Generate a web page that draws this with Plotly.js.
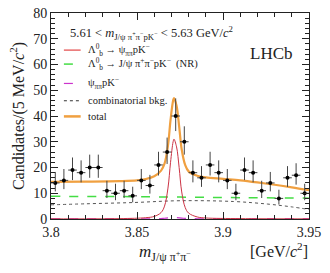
<!DOCTYPE html>
<html><head><meta charset="utf-8">
<script src="https://cdn.plot.ly/plotly-3.0.1.min.js"></script>
<style>body{margin:0;background:#fff}#plot{width:330px;height:273px}</style>
</head><body><div id="plot"></div>
<script>
// Data points (5 MeV bins)
const binCenters = [3.8025,3.8075,3.8125,3.8175,3.8225,3.8275,3.8325,3.8375,3.8425,3.8475,
                    3.8525,3.8575,3.8625,3.8675,3.8725,3.8775,3.8825,3.8875,3.8925,3.8975,
                    3.9025,3.9075,3.9125,3.9175,3.9225,3.9275,3.9325,3.9375,3.9425,3.9475];
const counts = [14,15,19,18,20,20,11,10,11,9,
                15,13,21,26,40,30,18,16,21,18,
                15,10,19,18,11,14,8,16,17,10];

// Fit components
const totalX = [3.800,3.820,3.840,3.850,3.855,3.860,3.864,3.866,3.868,3.8695,3.871,3.8715,3.873,3.8745,3.876,3.878,3.880,3.885,3.890,3.900,3.910,3.920,3.930,3.940,3.950];
const totalY = [14.4,14.5,14.7,15.0,15.5,16.6,18.8,21.5,28.5,38.5,46.0,47.0,44.0,36.0,27.0,21.0,18.5,16.8,16.2,15.6,15.0,14.2,13.3,12.3,11.2];

const sigX = [3.800,3.840,3.855,3.860,3.864,3.866,3.868,3.8695,3.871,3.8715,3.873,3.8745,3.876,3.878,3.880,3.885,3.890,3.910,3.950];
const sigY = [0.05,0.15,0.5,1.0,2.5,5.0,12.0,22.0,30.0,31.0,28.0,20.0,10.5,4.5,2.3,0.8,0.4,0.15,0.05];

const nrX = [3.800,3.840,3.875,3.910,3.950];
const nrY = [8.8,8.7,8.5,8.3,8.1];

const psiX = [3.800,3.860,3.866,3.8715,3.877,3.885,3.950];
const psiY = [0.1,0.1,0.3,0.6,0.3,0.1,0.1];

const combX = [3.800,3.820,3.848,3.875,3.906,3.926,3.940,3.950];
const combY = [5.5,5.9,6.4,7.1,6.8,5.8,4.7,3.7];

const errUp = counts.map(n => 0.5 + Math.sqrt(n + 0.25));
const errDn = counts.map(n => -0.5 + Math.sqrt(n + 0.25));
const halfBin = binCenters.map(() => 0.0025);

const serif = "Liberation Serif, Times New Roman, serif";

const traces = [
  {x: combX, y: combY, mode:'lines', line:{color:'#555', width:1, dash:'dot', shape:'spline'}, showlegend:false},
  {x: nrX, y: nrY, mode:'lines', line:{color:'#44dd44', width:1.5, dash:'dash', shape:'spline'}, showlegend:false},
  {x: psiX, y: psiY, mode:'lines', line:{color:'#cc33cc', width:1.2, dash:'dash', shape:'spline'}, showlegend:false},
  {x: sigX, y: sigY, mode:'lines', line:{color:'#cc3344', width:1, shape:'spline'}, showlegend:false},
  {x: totalX, y: totalY, mode:'lines', line:{color:'#f0a040', width:2.2, shape:'spline'}, showlegend:false},
  {x: binCenters, y: counts, mode:'markers', marker:{color:'#000', size:4},
   error_y:{type:'data', array:errUp, arrayminus:errDn, color:'#444', thickness:1, width:0},
   error_x:{type:'data', array:halfBin, color:'#444', thickness:1, width:0}, showlegend:false}
];

// legend geometry in paper coords
const lx0 = 0.05, lx1 = 0.115, tx = 0.135;
const rows = [0.820, 0.752, 0.658, 0.574, 0.498];
const legendItems = [
  {color:'#dd2222', dash:'solid', width:1, text:'Λ<sup>0</sup><sub>b</sub> → ψ<sub>ππ</sub>pK<sup>−</sup>'},
  {color:'#44dd44', dash:'dash', width:1.5, text:'Λ<sup>0</sup><sub>b</sub> → J/ψ π<sup>+</sup>π<sup>−</sup>pK<sup>−</sup>  (NR)'},
  {color:'#cc33cc', dash:'dash', width:1.2, text:'ψ<sub>ππ</sub>pK<sup>−</sup>'},
  {color:'#333', dash:'dot', width:1, text:'combinatorial bkg.'},
  {color:'#f0a040', dash:'solid', width:2.5, text:'total'}
];
const shapes = legendItems.map((it,i)=>({type:'line', xref:'paper', yref:'paper', x0:lx0, x1:lx1, y0:rows[i], y1:rows[i],
  line:{color:it.color, width:it.width, dash:it.dash}}));
const annotations = legendItems.map((it,i)=>({xref:'paper', yref:'paper', x:tx, y:rows[i], xanchor:'left', yanchor:'middle',
  text:it.text, showarrow:false, font:{family:serif, size:10.5, color:'#222'}}));

annotations.push(
  {xref:'paper', yref:'paper', x:0.065, y:0.905, xanchor:'left', yanchor:'middle', showarrow:false,
   text:'5.61 < <i>m</i><sub>J/ψ π<sup>+</sup>π<sup>−</sup>pK<sup>−</sup></sub> < 5.63 GeV/<i>c</i><sup>2</sup>',
   font:{family:serif, size:12.5, color:'#222'}},
  {xref:'paper', yref:'paper', x:0.945, y:0.805, xanchor:'right', yanchor:'middle', showarrow:false,
   text:'LHCb', font:{family:serif, size:17, color:'#222'}},
  {xref:'paper', yref:'paper', x:0.44, y:-0.165, xanchor:'center', yanchor:'middle', showarrow:false,
   text:'<i>m</i><sub>J/ψ π<sup>+</sup>π<sup>−</sup></sub>', font:{family:serif, size:17, color:'#222'}},
  {xref:'paper', yref:'paper', x:1.005, y:-0.15, xanchor:'right', yanchor:'middle', showarrow:false,
   text:'[GeV/<i>c</i><sup>2</sup>]', font:{family:serif, size:16, color:'#222'}}
);

const layout = {
  width:330, height:273,
  margin:{l:51, r:21, t:13, b:54},
  paper_bgcolor:'#fff', plot_bgcolor:'#fff',
  font:{family:serif, color:'#222'},
  showlegend:false,
  xaxis:{range:[3.8,3.95], tickvals:[3.8,3.85,3.9,3.95], ticktext:['3.8','3.85','3.9','3.95'],
    ticks:'inside', ticklen:7, tickcolor:'#222', mirror:'allticks', showline:true, linecolor:'#222', linewidth:1,
    showgrid:false, zeroline:false, tickfont:{family:serif, size:14, color:'#222'},
    minor:{ticks:'inside', ticklen:4, dtick:0.01, tick0:3.8, tickcolor:'#222', showgrid:false}},
  yaxis:{range:[0,80], dtick:10, tick0:0, ticks:'inside', ticklen:7, tickcolor:'#222', mirror:'allticks',
    showline:true, linecolor:'#222', linewidth:1, showgrid:false, zeroline:false,
    tickfont:{family:serif, size:14, color:'#222'},
    minor:{ticks:'inside', ticklen:4, dtick:2, tickcolor:'#222', showgrid:false},
    title:{text:'Candidates/(5 MeV/<i>c</i><sup>2</sup>)', font:{family:serif, size:16, color:'#222'}, standoff:4}},
  shapes: shapes,
  annotations: annotations
};

Plotly.newPlot('plot', traces, layout, {staticPlot:true, displayModeBar:false});
</script>
</body></html>
